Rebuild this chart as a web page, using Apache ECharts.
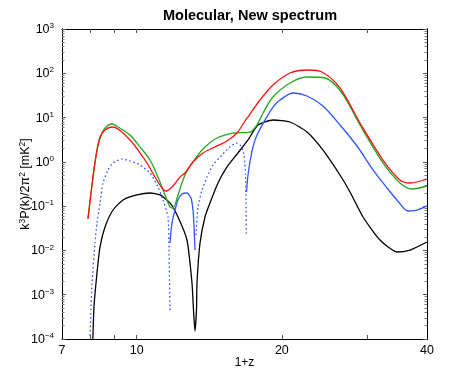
<!DOCTYPE html>
<html><head><meta charset="utf-8">
<script src="https://cdn.jsdelivr.net/npm/echarts@6/dist/echarts.min.js"></script>
<style>html,body{margin:0;padding:0;background:#fff}#c{width:471px;height:382px}</style>
</head><body><div id="c"></div>
<script>
// x values are 1+z, y values are k^3P(k)/2pi^2 in mK^2 (absolute values for negative parts)
const xRed = [7.925,8.117,8.273,8.393,8.596,8.888,9.146,9.686,10.063,10.504,10.913,11.285,11.502,11.893,12.297,12.594,13.084,13.725,14.534,15.392,16.144,16.773,17.178,18.019,19.173,20.794,22.553,24.228,26.402,29.048,32.421,35.162,36.882,40.0];
const yRed = [0.0513,0.455,1.85,3.64,5.24,6.13,5.52,3.12,1.85,0.943,0.455,0.257,0.220,0.285,0.455,0.561,0.993,1.59,2.17,2.96,4.48,8.37,12.0,24.9,54.4,101.5,118.6,106.9,46.6,7.54,1.10,0.389,0.333,0.410];

const xGreen = [7.925,8.117,8.273,8.473,8.678,8.888,9.146,9.686,10.160,10.656,11.071,11.447,11.724,11.893,12.180,12.594,13.084,13.725,14.674,15.839,17.178,17.762,18.279,19.173,20.794,22.553,24.577,26.655,29.048,32.421,35.162,37.236,40.0];
const yGreen = [0.0540,0.455,1.85,4.48,6.45,7.16,6.13,4.04,2.17,1.10,0.455,0.179,0.0957,0.0908,0.179,0.505,0.993,1.95,3.46,4.48,4.72,6.80,12.7,29.1,60.4,82.4,78.3,35.9,6.80,0.943,0.333,0.244,0.285];

const xBlack = [8.097,8.155,8.273,8.393,8.596,8.930,9.367,10.015,10.656,11.177,11.724,12.180,12.715,13.022,13.116,13.210,13.305,13.337,13.530,13.856,14.191,14.744,15.392,16.222,17.015,17.847,19.173,20.794,22.553,24.343,26.402,27.693,29.467,31.959,34.662,36.882,40.0];
const yBlack = [0.00005,0.000528,0.00309,0.0120,0.0338,0.0818,0.138,0.179,0.198,0.179,0.118,0.0569,0.0172,0.00184,0.000452,0.000152,0.000452,0.00184,0.0147,0.0569,0.118,0.333,0.766,1.59,3.12,6.80,8.81,7.94,4.72,1.85,0.505,0.209,0.0569,0.0172,0.00922,0.0102,0.0155];

// blue: dotted = negative values (|P|), solid = positive values
const xBlueNeg1 = [7.982,8.078,8.195,8.273,8.393,8.514,8.719,8.930,9.323,9.686,10.160,10.656,11.071,11.339,11.612,11.668,11.724];
const yBlueNeg1 = [0.00005,0.00184,0.0147,0.0416,0.118,0.333,0.655,0.943,1.16,1.05,0.849,0.561,0.271,0.138,0.0569,0.0102,0.000429];
const xBluePos1 = [11.724,11.837,12.007,12.180,12.415,12.715,12.960,13.084,13.147,13.210];
const yBluePos1 = [0.0147,0.0416,0.0818,0.138,0.188,0.198,0.153,0.0818,0.0375,0.0102];
const xBlueNeg2 = [13.273,13.401,13.659,13.989,14.396,15.028,15.614,16.067,16.457,16.693,16.813,16.853,16.878];
const yBlueNeg2 = [0.0223,0.0957,0.231,0.455,0.849,1.43,2.17,2.67,2.28,1.43,0.505,0.138,0.0223];
const xBluePos2 = [16.894,17.015,17.178,17.427,17.762,18.454,19.173,19.825,21.094,22.553,24.343,26.402,28.634,30.910,33.046,34.662,36.532,38.136,40.0];
const yBluePos2 = [0.209,0.505,0.993,2.17,4.04,8.81,17.3,24.9,35.9,30.7,18.2,6.80,2.28,0.655,0.257,0.138,0.0777,0.0818,0.101];

const xLabelValues = [7, 10, 20, 40];
const xTickValues = [8, 9, 10, 20, 30];
const yExponents = [-4, -3, -2, -1, 0, 1, 2, 3];

const yMajor = yExponents.map(e => Math.pow(10, e));
const yMinor = [];
yExponents.slice(0, -1).forEach(e => { for (let m = 2; m <= 9; m++) yMinor.push(m * Math.pow(10, e)); });

const pairs = (xs, ys) => xs.map((x, i) => [x, ys[i]]);
const FONT = 'Liberation Sans';
const BLUE = '#2f55ff';

function line(name, xs, ys, color, dotted, smooth) {
  return {
    name, type: 'line', data: pairs(xs, ys), showSymbol: false, symbol: 'none',
    smooth: smooth, clip: true, animation: false,
    lineStyle: { color, width: 1.3, type: dotted ? [1.6, 2.6] : 'solid' }
  };
}

const axisLineStyle = { lineStyle: { color: '#000', width: 1 } };

const xBase = { type: 'log', logBase: 10, min: 7, max: 40, splitLine: { show: false }, axisLine: axisLineStyle, minorTick: { show: false } };
const yBase = { type: 'log', logBase: 10, min: 1e-4, max: 1e3, splitLine: { show: false }, axisLine: axisLineStyle, minorTick: { show: false } };

const chart = echarts.init(document.getElementById('c'), null, { renderer: 'canvas' });
chart.setOption({
  animation: false,
  backgroundColor: '#fff',
  title: {
    text: 'Molecular, New spectrum', left: 245, top: 3, textAlign: 'center',
    textStyle: { fontFamily: FONT, fontSize: 14.5, fontWeight: 'bold', color: '#000' }
  },
  grid: { left: 62, right: 44, top: 29, bottom: 43, containLabel: false, outerBoundsMode: 'none' },
  xAxis: [
    Object.assign({}, xBase, {
      position: 'bottom',
      name: '1+z', nameLocation: 'middle', nameGap: 18, nameMoveOverlap: false,
      nameTextStyle: { fontFamily: FONT, fontSize: 12, color: '#000' },
      axisTick: { show: true, inside: true, length: 4, customValues: xTickValues, lineStyle: { color: '#555' } },
      axisLabel: { show: true, customValues: xLabelValues, margin: 5, fontFamily: FONT, fontSize: 12.5, color: '#000',
        formatter: v => String(Math.round(v)) }
    }),
    Object.assign({}, xBase, {
      position: 'top',
      axisTick: { show: true, inside: true, length: 4, customValues: xTickValues, lineStyle: { color: '#555' } },
      axisLabel: { show: false }
    })
  ],
  yAxis: [
    Object.assign({}, yBase, {
      position: 'left',
      name: '{n|k}{s|3}{n|P(k)/2π}{s|2}{n| [mK}{s|2}{n|]}', nameLocation: 'middle', nameGap: 30, nameMoveOverlap: false,
      nameTextStyle: { fontFamily: FONT, fontSize: 12.5, color: '#000',
        rich: { n: { fontFamily: FONT, fontSize: 12.5, color: '#000', verticalAlign: 'bottom', lineHeight: 14 },
                s: { fontFamily: FONT, fontSize: 8.5, color: '#000', verticalAlign: 'top', lineHeight: 14 } } },
      axisTick: { show: true, inside: true, length: 4, customValues: yMajor, lineStyle: { color: '#555' } },
      axisLabel: { show: true, customValues: yMajor, margin: 8, fontFamily: FONT, fontSize: 12.5, color: '#000',
        formatter: v => '{n|10}{s|' + String(Math.round(Math.log10(v))).replace('-', '\u2212') + '}',
        rich: { n: { fontFamily: FONT, fontSize: 12.5, color: '#000', verticalAlign: 'bottom', lineHeight: 14 },
                s: { fontFamily: FONT, fontSize: 8, color: '#000', verticalAlign: 'top', lineHeight: 14 } } }
    }),
    Object.assign({}, yBase, {
      position: 'left',
      axisTick: { show: true, inside: true, length: 2.5, customValues: yMinor, lineStyle: { color: '#777' } },
      axisLabel: { show: false }
    }),
    Object.assign({}, yBase, {
      position: 'right',
      axisTick: { show: true, inside: true, length: 4, customValues: yMajor, lineStyle: { color: '#555' } },
      axisLabel: { show: false }
    }),
    Object.assign({}, yBase, {
      position: 'right',
      axisTick: { show: true, inside: true, length: 2.5, customValues: yMinor, lineStyle: { color: '#777' } },
      axisLabel: { show: false }
    })
  ],
  series: [
    line('black', xBlack, yBlack, '#000', false, 0.2),
    line('blueNeg1', xBlueNeg1, yBlueNeg1, BLUE, true, 0.2),
    line('bluePos1', xBluePos1, yBluePos1, BLUE, false, 0.2),
    line('blueNeg2', xBlueNeg2, yBlueNeg2, BLUE, true, 0.2),
    line('bluePos2', xBluePos2, yBluePos2, BLUE, false, 0.3),
    line('green', xGreen, yGreen, '#22a81e', false, 0.3),
    line('red', xRed, yRed, '#ff1010', false, 0.3)
  ]
});
</script></body></html>
